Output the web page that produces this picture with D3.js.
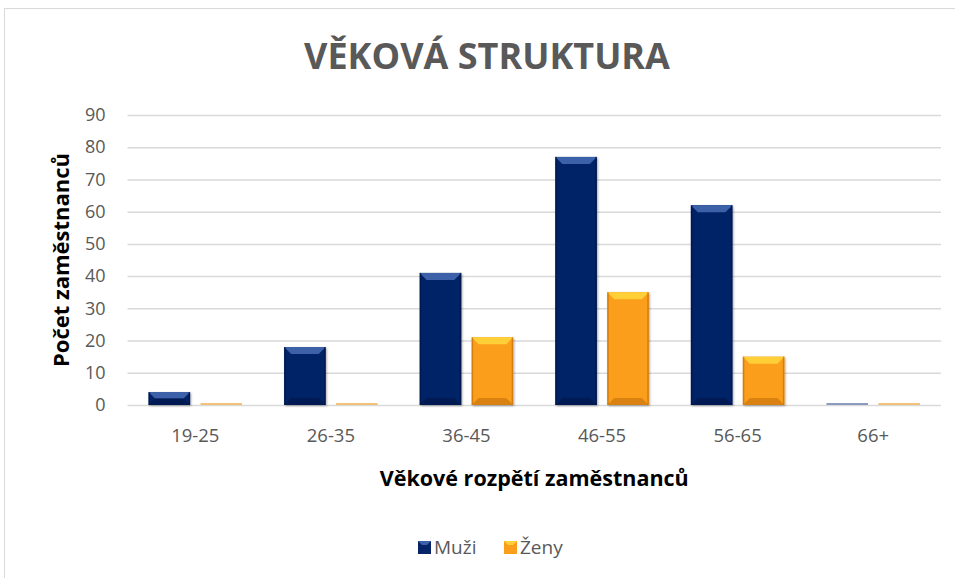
<!DOCTYPE html>
<meta charset="utf-8">
<head>
    <title>Věková struktura</title>
    <style>
        body { margin: 0; background: #fff; }
        text { font-family: "Open Sans", "Noto Sans", sans-serif; }
    </style>
</head>

<script src="https://d3js.org/d3.v7.min.js"></script>

<div id="dataVis"></div>

<script>

    // data
    var categories = ["19-25", "26-35", "36-45", "46-55", "56-65", "66+"];
    var series = ["Muži", "Ženy"];
    var muzi = [4, 18, 41, 77, 62, 0];
    var zeny = [0, 0, 21, 35, 15, 0];
    var yTicks = [0, 10, 20, 30, 40, 50, 60, 70, 80, 90];

    var colors = {
        "Muži": { main: "#062466", light: "#3d61a8", dark: "#021546", zero: "#8a9cc0" },
        "Ženy": { main: "#fb9e1c", light: "#ffcf38", dark: "#c4700a", zero: "#f2c27a" }
    };

    var W = 955, H = 578;
    var plot = { left: 127.5, right: 941, top: 115, bottom: 405 };

    var svg = d3.select("#dataVis")
        .append("svg")
        .attr("width", W)
        .attr("height", H);

    var defs = svg.append("defs");
    var f = defs.append("filter").attr("id", "shadow")
        .attr("x", "-20%").attr("y", "-20%").attr("width", "140%").attr("height", "140%");
    f.append("feDropShadow").attr("dx", 1).attr("dy", 1).attr("stdDeviation", 1.2)
        .attr("flood-color", "#000").attr("flood-opacity", 0.35);

    // chart frame
    svg.append("rect")
        .attr("x", 4.5).attr("y", 8.5)
        .attr("width", 1000).attr("height", 700)
        .attr("fill", "#fff")
        .attr("stroke", "#d9d9d9");

    var x = d3.scaleBand()
        .domain(categories)
        .range([plot.left, plot.right])
        .padding(0);

    var x1 = d3.scaleBand()
        .domain(series)
        .range([0, x.bandwidth()])
        .paddingInner(0.2)
        .paddingOuter(0.405);

    var y = d3.scaleLinear()
        .domain([0, 90])
        .range([plot.bottom, plot.top]);

    // gridlines + y labels
    var yAxis = svg.append("g")
        .attr("transform", "translate(" + plot.left + ",0)")
        .call(d3.axisLeft(y).tickValues(yTicks).tickSize(-(plot.right - plot.left)).tickPadding(22));
    yAxis.select(".domain").remove();
    yAxis.selectAll(".tick line").attr("stroke", "#d9d9d9").attr("stroke-width", 1.5);
    yAxis.selectAll(".tick text")
        .attr("fill", "#595959")
        .style("font-size", "18px");

    // x labels
    var xAxis = svg.append("g")
        .attr("transform", "translate(0," + plot.bottom + ")")
        .call(d3.axisBottom(x).tickSize(0).tickPadding(24));
    xAxis.select(".domain").remove();
    xAxis.selectAll(".tick text")
        .attr("fill", "#595959")
        .style("font-size", "18.5px");

    // bars
    var rows = categories.map(function (c, i) {
        return { cat: c, values: [{ s: "Muži", v: muzi[i] }, { s: "Ženy", v: zeny[i] }] };
    });

    var groups = svg.append("g")
        .selectAll("g")
        .data(rows)
        .enter()
        .append("g")
        .attr("transform", function (d) { return "translate(" + x(d.cat) + ",0)"; });

    var bars = groups.selectAll("g")
        .data(function (d) { return d.values; })
        .enter()
        .append("g");

    bars.each(function (d) {
        var g = d3.select(this);
        var c = colors[d.s];
        var x0 = x1(d.s), w = x1.bandwidth();
        var top = y(d.v), h = plot.bottom - top;
        if (d.v === 0) {
            g.append("rect")
                .attr("x", x0).attr("y", plot.bottom - 2)
                .attr("width", w).attr("height", 2)
                .attr("fill", c.zero);
            return;
        }
        var b = Math.min(7, h / 2);
        g.append("rect")
            .attr("x", x0).attr("y", top)
            .attr("width", w).attr("height", h)
            .attr("fill", c.main)
            .attr("filter", "url(#shadow)");
        // top bevel
        g.append("path")
            .attr("d", "M" + x0 + "," + top + "L" + (x0 + w) + "," + top +
                "L" + (x0 + w - b) + "," + (top + b) + "L" + (x0 + b) + "," + (top + b) + "Z")
            .attr("fill", c.light);
        // bottom bevel
        g.append("path")
            .attr("d", "M" + x0 + "," + plot.bottom + "L" + (x0 + w) + "," + plot.bottom +
                "L" + (x0 + w - b) + "," + (plot.bottom - b) + "L" + (x0 + b) + "," + (plot.bottom - b) + "Z")
            .attr("fill", c.dark)
            .attr("opacity", 0.6);
        // side edges
        g.append("rect")
            .attr("x", x0).attr("y", top)
            .attr("width", 1.5).attr("height", h)
            .attr("fill", c.dark).attr("opacity", 0.7);
        g.append("rect")
            .attr("x", x0 + w - 1.5).attr("y", top)
            .attr("width", 1.5).attr("height", h)
            .attr("fill", c.dark).attr("opacity", 0.7);
    });

    // title
    svg.append("text")
        .attr("x", 487).attr("y", 69)
        .attr("text-anchor", "middle")
        .attr("fill", "#595959")
        .style("font-size", "36px")
        .style("font-weight", "bold")
        .text("VĚKOVÁ STRUKTURA");

    // axis titles
    svg.append("text")
        .attr("x", (plot.left + plot.right) / 2).attr("y", 486)
        .attr("text-anchor", "middle")
        .attr("fill", "#000")
        .style("font-size", "21.5px")
        .style("font-weight", "bold")
        .text("Věkové rozpětí zaměstnanců");

    svg.append("text")
        .attr("transform", "translate(69," + (plot.top + plot.bottom) / 2 + ") rotate(-90)")
        .attr("text-anchor", "middle")
        .attr("fill", "#000")
        .style("font-size", "22px")
        .style("font-weight", "bold")
        .text("Počet zaměstnanců");

    // legend
    var legend = svg.append("g")
        .selectAll("g")
        .data(series)
        .enter()
        .append("g")
        .attr("transform", function (d, i) { return "translate(" + (418 + i * 86) + ",541)"; });

    legend.append("rect")
        .attr("width", 13).attr("height", 13)
        .attr("fill", function (d) { return colors[d].main; });
    legend.append("path")
        .attr("d", "M0,0L13,0L9,4L4,4Z")
        .attr("fill", function (d) { return colors[d].light; });
    legend.append("text")
        .attr("x", 16).attr("y", 13)
        .attr("fill", "#595959")
        .style("font-size", "19px")
        .text(function (d) { return d; });

</script>
